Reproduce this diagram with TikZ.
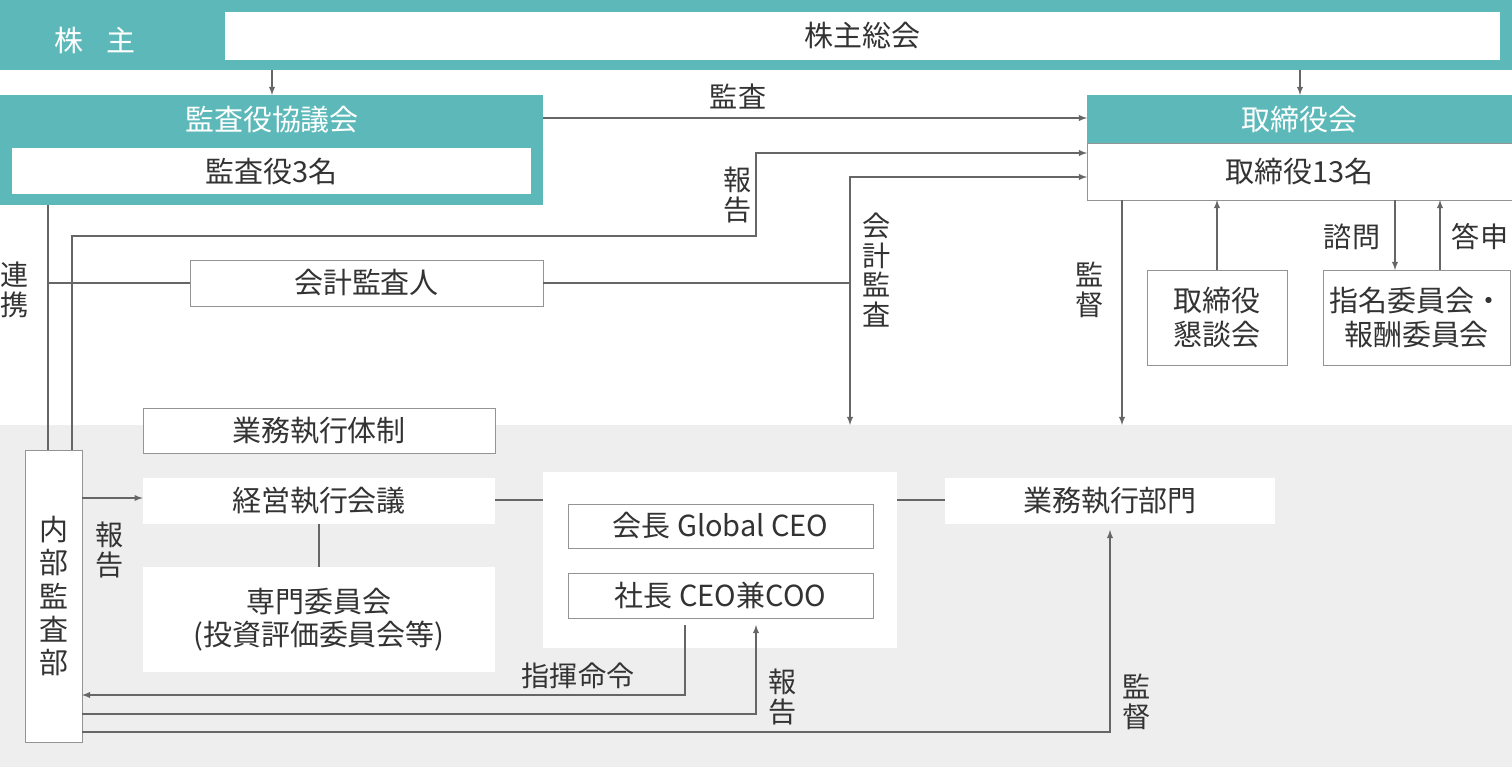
\documentclass[tikz,border=0pt]{standalone}
\usepackage{fontspec}
\setmainfont{Noto Sans CJK JP}
\usetikzlibrary{positioning,calc}
\definecolor{teal1}{HTML}{5DB9B9}
\definecolor{back1}{HTML}{EEEEEE}
\definecolor{line1}{HTML}{666666}
\definecolor{text1}{HTML}{333333}
\tikzset{
  box/.style={draw=line1!70,fill=white,inner sep=0pt,text=text1},
  plain/.style={fill=white,inner sep=0pt,text=text1},
  conn/.style={draw=line1,line width=0.6pt},
  arr/.style={conn,-latex},
  lab/.style={text=text1,align=center,inner sep=0pt,font=\fontsize{16}{17}\selectfont}
}
\begin{document}
\begin{tikzpicture}[x=0.02cm,y=-0.02cm,font=\fontsize{16.5}{19}\selectfont]
\useasboundingbox (0,0) rectangle (1512,767);
% backgrounds
\fill[back1] (0,425) rectangle (1512,767);
\fill[teal1] (0,0) rectangle (1512,70);
\node[white] (kabu) at (95,40) {株\hspace{0.8em}主};
\node[plain,minimum width=1275*0.02cm,minimum height=48*0.02cm] (soukai) at (862.5,36) {株主総会};

% upper boxes
\fill[teal1] (0,95) rectangle (543,205);
\node[white] (kyogi) at (272,120) {監査役協議会};
\node[plain,minimum width=519*0.02cm,minimum height=46*0.02cm] (kansayaku) at (271.5,171) {監査役3名};
\fill[teal1] (1087,95) rectangle (1512,143);
\node[white] (torikai) at (1299,120) {取締役会};
\node[box,minimum width=425*0.02cm,minimum height=57*0.02cm] (tori) at (1299.5,171.5) {取締役13名};
\node[box,minimum width=353*0.02cm,minimum height=46*0.02cm] (kaikei) at (366.5,283) {会計監査人};
\node[box,minimum width=140*0.02cm,minimum height=95*0.02cm,align=center] (kondan) at (1217,317.5) {取締役\\懇談会};
\node[box,minimum width=187*0.02cm,minimum height=95*0.02cm,align=center] (shimei) at (1416.5,317.5) {指名委員会・\\報酬委員会};

% lower boxes
\node[box,minimum width=352*0.02cm,minimum height=45*0.02cm] (taisei) at (319,430.5) {業務執行体制};
\node[box,minimum width=57*0.02cm,minimum height=292*0.02cm,align=center] (naibu) at (53.5,596) {内\\部\\監\\査\\部};
\node[plain,minimum width=352*0.02cm,minimum height=46*0.02cm] (keiei) at (319,501) {経営執行会議};
\node[plain,minimum width=352*0.02cm,minimum height=105*0.02cm,align=center] (senmon) at (319,619.5) {専門委員会\\(投資評価委員会等)};
\node[plain,minimum width=354*0.02cm,minimum height=176*0.02cm] (center) at (720,560) {};
\node[box,minimum width=305*0.02cm,minimum height=44*0.02cm] (kaicho) at (720.5,526) {会長 Global CEO};
\node[box,minimum width=305*0.02cm,minimum height=45*0.02cm] (shacho) at (720.5,595.5) {社長 CEO兼COO};
\node[plain,minimum width=330*0.02cm,minimum height=46*0.02cm] (bumon) at (1110,501) {業務執行部門};

% connectors, upper part
\draw[arr] (272,70) -- (272,95);
\draw[arr] (1300,70) -- (1300,95);
\draw[arr] (543,118) -- (1087,118);
\node[lab] at (738,97) {監査};
\draw[arr] (72,450) -- (72,236) -- (756,236) -- (756,153) -- (1087,153);
\node[lab] at (738,195) {報\\告};
\draw[arr] (850,283) -- (850,177) -- (1087,177);
\draw[arr] (kaikei.east) -- (850,283) -- (850,425);
\node[lab] at (877,270) {会\\計\\監\\査};
\draw[conn] (48,205) -- (48,450);
\draw[conn] (48,283) -- (kaikei.west);
\node[lab] at (15,290) {連\\携};
\draw[arr] (1122,200) -- (1122,425);
\node[lab] at (1090,290) {監\\督};
\draw[arr] (kondan.north) -- (1217,200);
\draw[arr] (1395,200) -- (1395,270);
\node[lab] at (1352,237) {諮問};
\draw[arr] (1440,270) -- (1440,200);
\node[lab] at (1480,237) {答申};

% connectors, lower part
\draw[arr] (82,498) -- (keiei.west|-0,498);
\node[lab] at (110,550) {報\\告};
\draw[conn] (keiei.south) -- (senmon.north);
\draw[conn] (495,500) -- (543,500);
\draw[conn] (897,500) -- (945,500);
\draw[arr] (685,625) -- (685,695) -- (82,695);
\node[lab] at (578,676) {指揮命令};
\draw[arr] (82,714) -- (756,714) -- (756,625);
\node[lab] at (783,697) {報\\告};
\draw[arr] (82,732) -- (1110,732) -- (1110,530);
\node[lab] at (1137,702) {監\\督};
\end{tikzpicture}
\end{document}
